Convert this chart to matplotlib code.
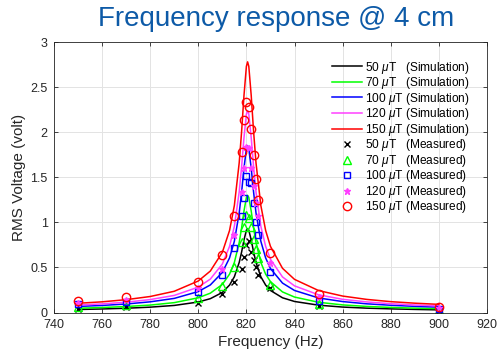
import matplotlib
matplotlib.use("Agg")
import matplotlib.pyplot as plt
import numpy as np

plt.rcParams['font.family'] = ['Liberation Sans', 'DejaVu Sans']
plt.rcParams['mathtext.fontset'] = 'custom'
plt.rcParams['mathtext.it'] = 'Liberation Sans:italic'
plt.rcParams['mathtext.rm'] = 'Liberation Sans'

# simulated curves
sim_freq = [750, 760, 770, 780, 790, 800, 805, 810, 813, 815, 817, 818, 819, 820,
            820.5, 821, 822, 823, 824, 826, 828, 830, 835, 840, 850, 860, 870,
            880, 890, 900]
sim_50 = [0.034, 0.040, 0.048, 0.060, 0.079, 0.117, 0.154, 0.223, 0.305, 0.397,
          0.555, 0.670, 0.805, 0.913, 0.930, 0.913, 0.805, 0.670, 0.555, 0.397,
          0.305, 0.245, 0.164, 0.123, 0.082, 0.061, 0.049, 0.041, 0.035, 0.030]
sim_70 = [0.048, 0.056, 0.067, 0.083, 0.110, 0.164, 0.215, 0.312, 0.426, 0.556,
          0.775, 0.937, 1.126, 1.277, 1.300, 1.277, 1.126, 0.937, 0.775, 0.556,
          0.426, 0.343, 0.229, 0.172, 0.114, 0.085, 0.068, 0.057, 0.049, 0.043]
sim_100 = [0.068, 0.079, 0.095, 0.119, 0.157, 0.233, 0.306, 0.445, 0.606, 0.791,
           1.103, 1.333, 1.602, 1.817, 1.850, 1.817, 1.602, 1.333, 1.103, 0.791,
           0.606, 0.488, 0.327, 0.245, 0.162, 0.122, 0.097, 0.081, 0.069, 0.060]
sim_120 = [0.083, 0.096, 0.115, 0.144, 0.190, 0.282, 0.371, 0.538, 0.734, 0.957,
           1.336, 1.614, 1.940, 2.200, 2.240, 2.200, 1.940, 1.614, 1.336, 0.957,
           0.734, 0.591, 0.395, 0.296, 0.197, 0.147, 0.118, 0.098, 0.084, 0.073]
sim_150 = [0.103, 0.119, 0.143, 0.178, 0.236, 0.350, 0.460, 0.668, 0.910, 1.188,
           1.658, 2.004, 2.408, 2.730, 2.780, 2.730, 2.408, 2.004, 1.658, 1.188,
           0.910, 0.734, 0.491, 0.368, 0.244, 0.183, 0.146, 0.121, 0.104, 0.091]

# measured points
meas_freq = [750, 770, 800, 810, 815, 818, 819, 820, 821, 822, 823, 824, 825, 830, 850, 900]
meas_50 = [0.04, 0.06, 0.11, 0.21, 0.34, 0.48, 0.62, 0.75, 0.79, 0.67, 0.58, 0.51, 0.42, 0.27, 0.07, 0.02]
meas_70 = [0.06, 0.08, 0.16, 0.30, 0.50, 0.78, 0.95, 1.08, 1.05, 0.95, 0.82, 0.70, 0.60, 0.31, 0.09, 0.03]
meas_100 = [0.09, 0.12, 0.23, 0.42, 0.72, 1.07, 1.27, 1.51, 1.45, 1.44, 1.22, 1.00, 0.86, 0.45, 0.13, 0.04]
meas_120 = [0.11, 0.14, 0.27, 0.48, 0.86, 1.34, 1.60, 1.84, 1.82, 1.60, 1.40, 1.22, 1.07, 0.55, 0.17, 0.05]
meas_150 = [0.13, 0.17, 0.34, 0.64, 1.07, 1.78, 2.13, 2.33, 2.28, 2.04, 1.75, 1.48, 1.25, 0.66, 0.21, 0.06]

fields = ['50', '70', '100', '120', '150']
colors = ['#000000', '#00ff00', '#0000ff', '#ff40ff', '#ff0000']
markers = ['x', '^', 's', '*', 'o']
msizes = [4, 6, 4, 5, 6]
sims = [sim_50, sim_70, sim_100, sim_120, sim_150]
meas = [meas_50, meas_70, meas_100, meas_120, meas_150]
gaps = ['  ', '  ', '', '', '']

fig = plt.figure(figsize=(4.99, 3.56), dpi=100)
ax = fig.add_axes([0.108, 0.122, 0.868, 0.76])

for f, c, sim, g in zip(fields, colors, sims, gaps):
    ax.plot(sim_freq, sim, color=c, lw=1.1,
            label=f + r' $\mu$T ' + g + '(Simulation)')
for f, c, m, ms, vals, g in zip(fields, colors, markers, msizes, meas, gaps):
    fc = c if m == '*' else 'none'
    ax.plot(meas_freq, vals, linestyle='none', marker=m, markersize=ms,
            markeredgecolor=c, markerfacecolor=fc, markeredgewidth=1.0,
            label=f + r' $\mu$T ' + g + '(Measured)')

ax.set_xlim(740, 920)
ax.set_ylim(0, 3)
ax.set_xticks(np.arange(740, 921, 20))
ax.set_yticks([0, 0.5, 1, 1.5, 2, 2.5, 3])
ax.set_yticklabels(['0', '0.5', '1', '1.5', '2', '2.5', '3'])
ax.grid(True, color='#e3e3e3', lw=0.7)
ax.set_axisbelow(True)
ax.tick_params(direction='in', top=True, right=True, length=3,
               labelsize=9, colors='#262626', width=0.6, pad=4.5)
for s in ax.spines.values():
    s.set_color('#262626')
    s.set_linewidth(0.6)

ax.set_xlabel('Frequency (Hz)', fontsize=11, color='#262626', labelpad=3)
ax.set_ylabel('RMS Voltage (volt)', fontsize=11, color='#262626', labelpad=3)

ax.legend(loc='upper right', frameon=False, fontsize=8.6, handlelength=2.5,
          handletextpad=0.25, labelspacing=-0.04, borderaxespad=0, borderpad=0,
          bbox_to_anchor=(0.96, 0.935))

fig.text(0.553, 0.947, 'Frequency response @ 4 cm', ha='center', va='center',
         fontsize=20, color='#0d5aa7')

fig.savefig('out.png', dpi=100)
